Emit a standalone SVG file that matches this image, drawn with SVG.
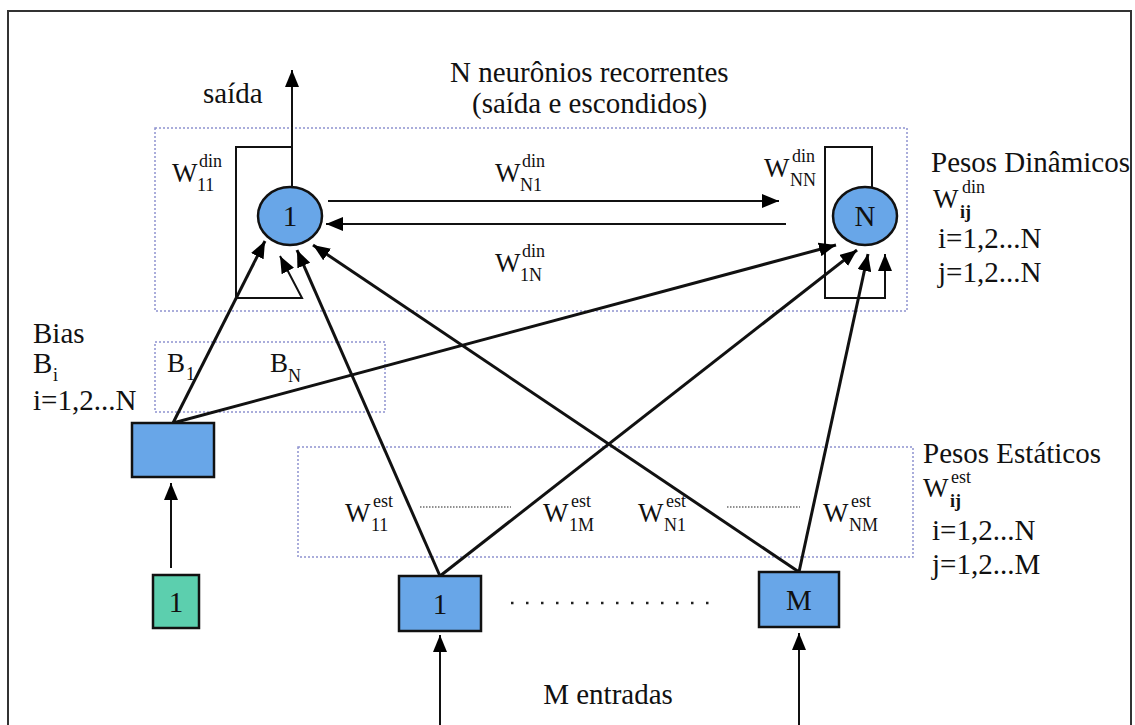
<svg xmlns="http://www.w3.org/2000/svg" width="1135" height="725" viewBox="0 0 1135 725">
  <defs>
    <marker id="head" markerUnits="userSpaceOnUse" markerWidth="18" markerHeight="14" refX="17" refY="7" orient="auto">
      <path d="M0,0 L17,7 L0,14 z" fill="#000"/>
    </marker>
    <style>
      .txt { font-family: "Liberation Serif", "Times New Roman", serif; font-size: 29px; fill: #111; }
      .w { font-family: "Liberation Serif", "Times New Roman", serif; font-size: 27px; fill: #111; }
      .sm { font-family: "Liberation Serif", "Times New Roman", serif; font-size: 18px; fill: #111; }
      .smb { font-family: "Liberation Serif", "Times New Roman", serif; font-size: 18px; font-weight: bold; fill: #111; }
      .zone { fill: none; stroke: #8f93cf; stroke-width: 1.5; stroke-dasharray: 2 2; }
      .neuron { fill: #68a6e8; stroke: #111; stroke-width: 2.5; }
      .unit { fill: #68a6e8; stroke: #111; stroke-width: 2.5; }
      .const { fill: #5ccfae; stroke: #111; stroke-width: 2.5; }
      .thin { fill: none; stroke: #111; stroke-width: 2; }
      .thick { fill: none; stroke: #111; stroke-width: 3; }
      .dots { fill: none; stroke: #222; stroke-width: 1.2; stroke-dasharray: 1.5 1.5; }
      .bigdots { fill: none; stroke: #222; stroke-width: 2.5; stroke-dasharray: 2.5 12.5; }
    </style>
  </defs>

  <rect width="1135" height="725" fill="#fff"/>
  <!-- outer frame -->
  <rect x="8" y="11" width="1123" height="730" fill="none" stroke="#333" stroke-width="2"/>

  <!-- dotted grouping zones -->
  <g id="zones">
    <rect class="zone" x="155" y="128" width="752" height="183"/>
    <rect class="zone" x="155" y="342" width="230" height="70"/>
    <rect class="zone" x="298" y="447" width="615" height="110"/>
  </g>

  <!-- connectors -->
  <g id="connectors">
    <path class="thin" d="M292,188 V70" marker-end="url(#head)"/>
    <path class="thin" d="M292,147 H236 V298 H302 L280,256" marker-end="url(#head)"/>
    <path class="thin" d="M328,201 H779" marker-end="url(#head)"/>
    <path class="thin" d="M786,224 H326" marker-end="url(#head)"/>
    <path class="thin" d="M872,187 V147 H825 V298 H885 V254" marker-end="url(#head)"/>
    <path class="thick" d="M173,423 L265,241" marker-end="url(#head)"/>
    <path class="thick" d="M173,423 L836,245" marker-end="url(#head)"/>
    <path class="thick" d="M440,576 L297,250" marker-end="url(#head)"/>
    <path class="thick" d="M799,572 L313,245" marker-end="url(#head)"/>
    <path class="thick" d="M440,576 L857,250" marker-end="url(#head)"/>
    <path class="thick" d="M799,572 L868,254" marker-end="url(#head)"/>
    <path class="thin" d="M171,568 V483" marker-end="url(#head)"/>
    <path class="thin" d="M440,725 V635" marker-end="url(#head)"/>
    <path class="thin" d="M799,725 V633" marker-end="url(#head)"/>
    <path class="dots" d="M420,507 H511"/>
    <path class="dots" d="M727,507 H800"/>
    <path class="bigdots" d="M511,603 H720"/>
  </g>

  <!-- recurrent neurons -->
  <g id="neuron-1">
    <ellipse class="neuron" cx="290" cy="216" rx="32" ry="29"/>
    <text class="txt" x="290" y="226" text-anchor="middle">1</text>
  </g>
  <g id="neuron-N">
    <ellipse class="neuron" cx="865" cy="216" rx="32" ry="29"/>
    <text class="txt" x="865" y="226" text-anchor="middle">N</text>
  </g>

  <!-- bias unit and its constant input -->
  <g id="bias-unit">
    <rect class="unit" x="132" y="423" width="82" height="54"/>
  </g>
  <g id="const-1">
    <rect class="const" x="153" y="575" width="46" height="53"/>
    <text class="txt" x="176" y="612" text-anchor="middle">1</text>
  </g>

  <!-- input units -->
  <g id="input-1">
    <rect class="unit" x="399" y="576" width="82" height="55"/>
    <text class="txt" x="440" y="614" text-anchor="middle">1</text>
  </g>
  <g id="input-M">
    <rect class="unit" x="759" y="572" width="80" height="55"/>
    <text class="txt" x="799" y="610" text-anchor="middle">M</text>
  </g>

  <!-- titles and legends -->
  <g id="labels">
    <text class="txt" x="450" y="82">N neurônios recorrentes</text>
    <text class="txt" x="472" y="113">(saída e escondidos)</text>
    <text class="txt" x="203" y="103">saída</text>
    <text class="txt" x="608" y="704" text-anchor="middle">M entradas</text>

    <text class="txt" x="931" y="172">Pesos Dinâmicos</text>
    <text class="w" x="933" y="208">W</text>
    <text class="sm" x="962" y="193">din</text>
    <text class="smb" x="960" y="218">ij</text>
    <text class="txt" x="938" y="248">i=1,2...N</text>
    <text class="txt" x="938" y="282">j=1,2...N</text>

    <text class="txt" x="923" y="463">Pesos Estáticos</text>
    <text class="w" x="923" y="497">W</text>
    <text class="sm" x="951" y="483">est</text>
    <text class="smb" x="950" y="507">ij</text>
    <text class="txt" x="932" y="540">i=1,2...N</text>
    <text class="txt" x="932" y="574">j=1,2...M</text>

    <text class="txt" x="33" y="343">Bias</text>
    <text class="txt" x="33" y="373">B</text>
    <text class="sm" x="53" y="381">i</text>
    <text class="txt" x="33" y="410">i=1,2...N</text>
  </g>

  <!-- weight labels -->
  <g id="weights">
    <text class="w" x="172" y="182">W</text>
    <text class="sm" x="199" y="167">din</text>
    <text class="sm" x="197" y="191">11</text>

    <text class="w" x="495" y="182">W</text>
    <text class="sm" x="522" y="167">din</text>
    <text class="sm" x="520" y="191">N1</text>

    <text class="w" x="495" y="272">W</text>
    <text class="sm" x="522" y="257">din</text>
    <text class="sm" x="520" y="281">1N</text>

    <text class="w" x="764" y="177">W</text>
    <text class="sm" x="792" y="162">din</text>
    <text class="sm" x="790" y="186">NN</text>

    <text class="w" x="167" y="372">B</text>
    <text class="sm" x="186" y="380">1</text>
    <text class="w" x="270" y="372">B</text>
    <text class="sm" x="288" y="382">N</text>

    <text class="w" x="345" y="522">W</text>
    <text class="sm" x="373" y="507">est</text>
    <text class="sm" x="371" y="531">11</text>

    <text class="w" x="543" y="522">W</text>
    <text class="sm" x="571" y="507">est</text>
    <text class="sm" x="569" y="531">1M</text>

    <text class="w" x="638" y="522">W</text>
    <text class="sm" x="666" y="507">est</text>
    <text class="sm" x="664" y="531">N1</text>

    <text class="w" x="823" y="522">W</text>
    <text class="sm" x="851" y="507">est</text>
    <text class="sm" x="849" y="531">NM</text>
  </g>
</svg>
